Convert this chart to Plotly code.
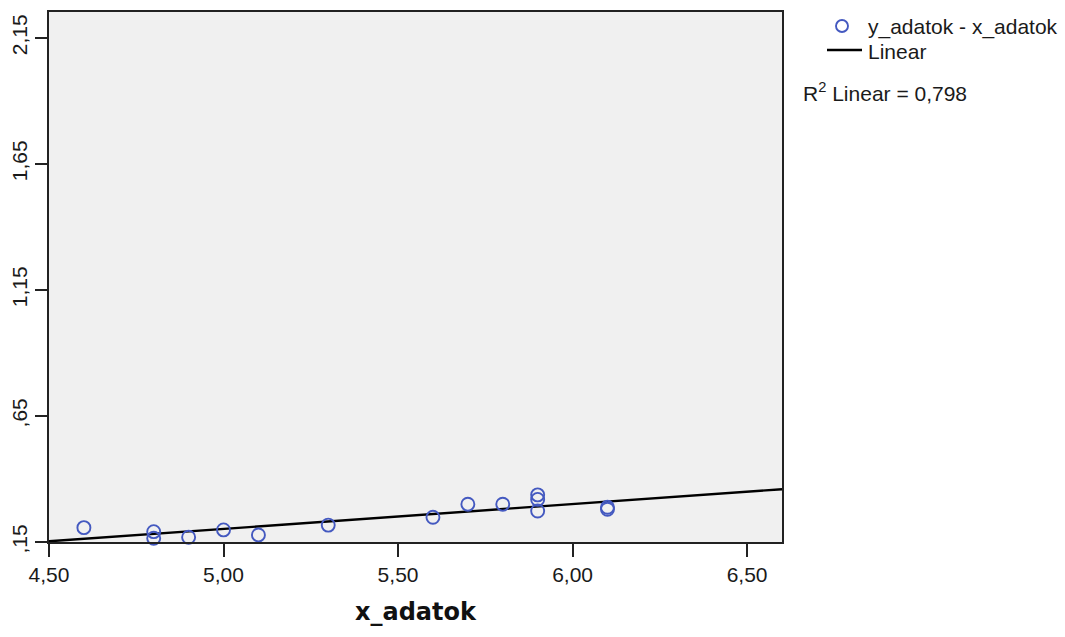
import numpy as np
import plotly.graph_objects as go

# data
x_adatok = [4.6, 4.8, 4.8, 4.9, 5.0, 5.1, 5.3, 5.6, 5.7, 5.8, 5.9, 5.9, 5.9, 6.1, 6.1]
y_adatok = [0.207, 0.191, 0.165, 0.169, 0.198, 0.178, 0.217, 0.248, 0.300, 0.300,
            0.337, 0.319, 0.273, 0.288, 0.280]
x_tickvals = [4.5, 5.0, 5.5, 6.0, 6.5]
x_ticktext = ["4,50", "5,00", "5,50", "6,00", "6,50"]
y_tickvals = [0.15, 0.65, 1.15, 1.65, 2.15]
y_ticktext = [",15", ",65", "1,15", "1,65", "2,15"]
x_range = [4.5, 6.6]
y_range = [0.15, 2.253]
r2_label = "R<sup>2</sup> Linear = 0,798"
series_name = "y_adatok - x_adatok"
fit_name = "Linear"
x_title = "x_adatok"

MARKER_COLOR = "#4459C0"
FONT = "Liberation Sans, Arial, sans-serif"
TXT = "#1a1a1a"
FS = 21

slope, intercept = np.polyfit(x_adatok, y_adatok, 1)
fit_x = np.array(x_range)
fit_y = intercept + slope * fit_x

fig = go.Figure()
fig.add_trace(go.Scatter(
    x=fit_x, y=fit_y, mode="lines", name=fit_name,
    line=dict(color="black", width=2.4), showlegend=False))
fig.add_trace(go.Scatter(
    x=x_adatok, y=y_adatok, mode="markers", name=series_name,
    marker=dict(symbol="circle-open", size=13, color=MARKER_COLOR,
                line=dict(width=1.9, color=MARKER_COLOR)),
    showlegend=False, cliponaxis=False))

# plot area in pixels
L, R, T, B = 49, 782, 12, 542
W, H = 1065, 637
pw, ph = R - L, B - T

def px(xp):
    return (xp - L) / pw

def py(yp):
    return (B - yp) / ph

shapes = [
    dict(type="circle", xref="paper", yref="paper", xsizemode="pixel", ysizemode="pixel",
         xanchor=px(842), yanchor=py(26), x0=-6, x1=6, y0=-6, y1=6,
         line=dict(color=MARKER_COLOR, width=1.9)),
    dict(type="line", xref="paper", yref="paper", x0=px(827), x1=px(862),
         y0=py(50), y1=py(50), line=dict(color="black", width=2.4)),
]

annotations = [
    dict(text=series_name, xref="paper", yref="paper", x=px(866), y=py(27),
         xanchor="left", yanchor="middle", showarrow=False,
         font=dict(family=FONT, size=FS, color=TXT)),
    dict(text=fit_name, xref="paper", yref="paper", x=px(866), y=py(52),
         xanchor="left", yanchor="middle", showarrow=False,
         font=dict(family=FONT, size=FS, color=TXT)),
    dict(text=r2_label, xref="paper", yref="paper", x=px(801), y=py(92),
         xanchor="left", yanchor="middle", showarrow=False,
         font=dict(family=FONT, size=FS, color=TXT)),
    dict(text="<b>" + x_title + "</b>", xref="paper", yref="paper", x=0.5, y=py(612),
         xanchor="center", yanchor="middle", showarrow=False,
         font=dict(family="DejaVu Sans, sans-serif", size=24, color="#111")),
]

fig.update_layout(
    width=W, height=H,
    margin=dict(l=L, r=W - R, t=T, b=H - B, pad=0),
    paper_bgcolor="white", plot_bgcolor="#F0F0F0",
    showlegend=False,
    shapes=shapes, annotations=annotations,
    xaxis=dict(range=x_range, tickvals=x_tickvals, ticktext=x_ticktext,
               automargin=False,
               showgrid=False, zeroline=False, showline=True, mirror=True,
               linecolor="#222", linewidth=1.5, ticks="outside", ticklen=13,
               tickcolor="#222", tickwidth=1.5,
               tickfont=dict(family=FONT, size=FS, color=TXT)),
    yaxis=dict(range=y_range, tickvals=y_tickvals, ticktext=y_ticktext,
               automargin=False,
               showgrid=False, zeroline=False, showline=True, mirror=True,
               linecolor="#222", linewidth=1.5, ticks="outside", ticklen=12,
               tickcolor="#222", tickwidth=1.5, tickangle=-90,
               tickfont=dict(family=FONT, size=FS, color=TXT)),
)

fig.write_html("out.html", config={"displayModeBar": False},
               post_script="document.body.style.margin='0';")
